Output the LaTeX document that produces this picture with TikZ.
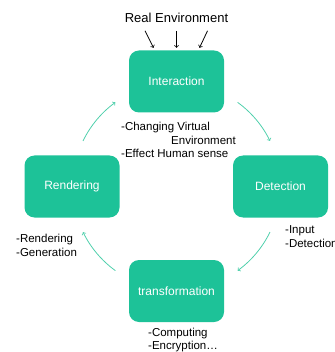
\documentclass[tikz,border=0pt]{standalone}
\usepackage{fontspec}
\setmainfont{Liberation Sans}
\usetikzlibrary{calc}
\definecolor{stagegreen}{RGB}{29,194,152}
\definecolor{loopgreen}{RGB}{80,208,172}

\begin{document}
\begin{tikzpicture}[x=1pt,y=1pt]
            \tikzstyle{stage}=[rectangle,rounded corners=10pt,fill=stagegreen,text=white,minimum width=95pt,minimum height=62pt,inner sep=0,font=\fontsize{12}{14}\selectfont];
            \tikzstyle{note}=[anchor=base west,align=left,inner sep=0,font=\fontsize{11.5}{13.5}\selectfont];
            \tikzstyle{loop arrow}=[->,draw=loopgreen,line width=0.8pt];
            \useasboundingbox (0,0) rectangle (334,-352);
            \node[stage] (inter) at (176.5,-81.5) {Interaction};
            \node[stage] (det) at (280.5,-186.5) {Detection};
            \node[stage] (trans) at (176.5,-291) {transformation};
            \node[stage] (rend) at (72,-186.5) {Rendering};
            \node[anchor=base,inner sep=0,font=\fontsize{13}{15}\selectfont] (env) at (176.5,-22.5) {Real Environment};
            \foreach \a/\b in {-31.5/-23,0/0,31/23} \draw[->,line width=0.8pt] ([xshift=\a pt,yshift=-8pt]env.south) -- ([xshift=\b pt,yshift=2.5pt]inter.north);
            \coordinate (hub) at (176.5,-186.5);
            \foreach \s/\e in {54/26,-26/-54,-126/-154,154/126} \draw[loop arrow] ($(hub)+(\s:104)$) arc[start angle=\s,end angle=\e,radius=104];
            % notes: anchored on the baseline of their last line
            \node[note] (internote) at (121,-158) {-Changing Virtual\\\hspace*{50pt}Environment\\-Effect Human sense};
            \node[note] (detnote) at (285,-247) {-Input\\-Detection};
            \node[note] (transnote) at (148,-349.5) {-Computing\\-Encryption\dots};
            \node[note] (rendnote) at (16,-256) {-Rendering\\-Generation};
\end{tikzpicture}
\end{document}
